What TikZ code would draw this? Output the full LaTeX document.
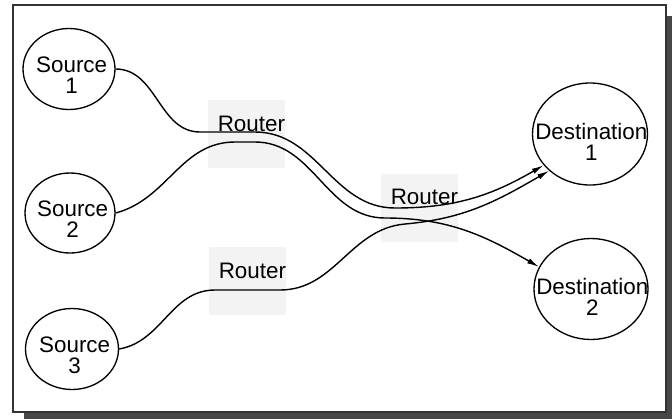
\documentclass[tikz,border=0pt]{standalone}
\usepackage{fontspec}
\setmainfont{Liberation Sans}
\usetikzlibrary{shapes.geometric,arrows.meta}
\definecolor{framegray}{HTML}{333333}
\definecolor{shadowgray}{HTML}{474747}
\definecolor{routergray}{HTML}{F3F3F3}
\tikzset{
  host/.style={ellipse,draw,line width=1pt,inner sep=0pt},
  hostname/.style={align=center,inner sep=0pt,font=\fontsize{16.8pt}{15.75pt}\selectfont},
  router/.style={fill=routergray,inner sep=0pt,text width=57.75pt,align=right,
    text height=23.6pt,text depth=27.4pt,font=\fontsize{16.8pt}{15.75pt}\selectfont},
  flow/.style={line width=1.05pt,-{Latex[length=9pt,width=4.2pt]}}
}
\begin{document}
\begin{tikzpicture}[x=0.75pt,y=-0.75pt]
      \useasboundingbox (0,0) rectangle (672,419);
      \fill[shadowgray] (24,16) rectangle (672,419);
      \draw[framegray,line width=1.5pt,fill=white] (12.5,5) rectangle (666,411.5);
      \draw
        (246.5,134) node[router] (r1){Router}
        (419.5,207.5) node[router] (r2){Router}
        (247.5,281) node[router] (r3){Router};
      \draw
        (69,69) node[host,minimum width=69pt,minimum height=60.75pt] (s1){}
        (70,213) node[host,minimum width=67.5pt,minimum height=60pt] (s2){}
        (72,349) node[host,minimum width=69.75pt,minimum height=60.75pt] (s3){}
        (590,134) node[host,minimum width=86.25pt,minimum height=76.5pt] (d1){}
        (591,289) node[host,minimum width=85.5pt,minimum height=75.75pt] (d2){};
      \draw
        ([xshift=2pt,yshift=-5pt]s1.center) node[hostname] (s1t){Source\\1}
        ([xshift=2pt,yshift=-5pt]s2.center) node[hostname] (s2t){Source\\2}
        ([xshift=2pt,yshift=-5pt]s3.center) node[hostname] (s3t){Source\\3}
        ([xshift=1pt,yshift=-6pt]d1.center) node[hostname] (d1t){Destination\\1}
        ([xshift=1pt,yshift=-6pt]d2.center) node[hostname] (d2t){Destination\\2};
      \begin{scope}[flow]
        \draw (s1.east) to[out=0,in=180] (200,132) -- (255,132)
          to[out=0,in=180] (395,208) to[out=0,in=210] (d1.214);
        \draw (s2.east) to[out=15,in=180] (235,142) -- (255,142)
          to[out=0,in=180] (385,218) to[out=0,in=150] (d2.157);
        \draw (s3.east) to[out=10,in=180] (215,290) -- (280,290)
          to[out=0,in=185] (405,224) to[out=5,in=210] (d1.222);
      \end{scope}
    \end{tikzpicture}
\end{document}
